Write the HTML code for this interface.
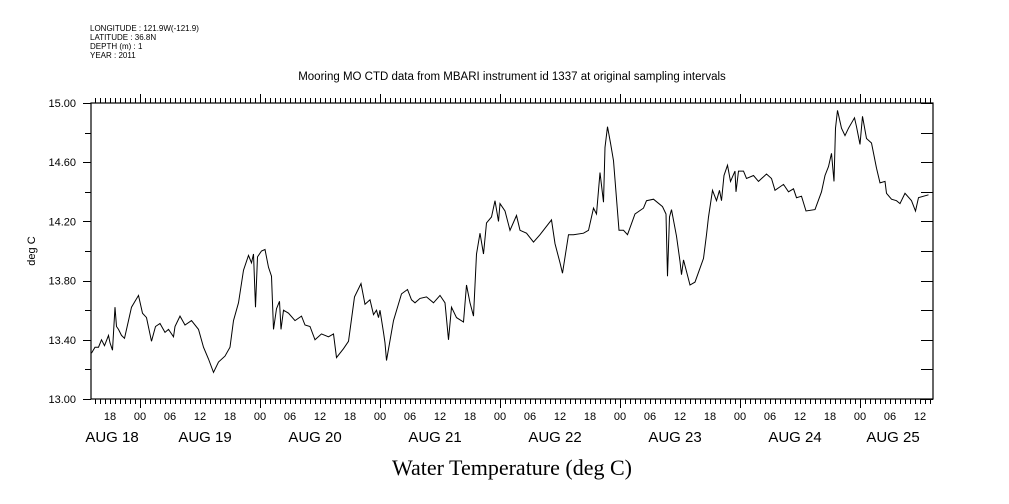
<!DOCTYPE html>
<html><head><meta charset="utf-8"><style>
html,body{margin:0;padding:0;background:#fff;}
svg{display:block;}
text{font-family:"Liberation Sans",sans-serif;fill:#000;}
</style></head><body>
<svg id="chart" width="1009" height="504" viewBox="0 0 1009 504">
<g font-size="8">
<text x="90" y="31">LONGITUDE : 121.9W(-121.9)</text>
<text x="90" y="40">LATITUDE : 36.8N</text>
<text x="90" y="49">DEPTH (m) : 1</text>
<text x="90" y="58">YEAR : 2011</text>
</g>
<text x="512" y="80" font-size="11.5" text-anchor="middle">Mooring MO CTD data from MBARI instrument id 1337 at original sampling intervals</text>
<text x="35" y="251" font-size="11" text-anchor="middle" transform="rotate(-90 35 251)">deg C</text>
<text x="512" y="475" font-size="22" text-anchor="middle" style="font-family:'Liberation Serif',serif">Water Temperature (deg C)</text>
<g id="axes"></g>
<path id="line" fill="none" stroke="#000" stroke-width="1"></path>
</svg>
<script>
const hours=[14.3,15.0,15.7,16.3,16.9,17.7,18.0,18.5,19.0,19.3,19.7,20.3,20.9,21.7,22.3,23.7,24.5,25.3,26.3,27.1,28.0,29.0,29.7,30.7,31.0,32.0,33.0,34.3,35.7,36.7,37.7,38.7,39.7,41.0,42.0,42.7,43.7,44.7,45.7,46.3,46.7,47.1,47.5,48.3,49.0,49.7,50.3,50.7,51.3,51.9,52.2,52.7,53.7,55.0,56.3,57.0,58.0,59.0,60.3,61.7,62.7,63.3,64.7,65.7,66.9,68.2,69.0,70.0,70.7,71.3,71.7,72.0,72.7,73.0,73.3,74.7,76.3,77.5,78.3,79.0,80.0,81.3,82.7,84.0,85.0,85.7,86.3,87.3,88.7,89.3,90.0,90.7,91.3,92.0,92.7,93.3,94.3,95.0,95.7,96.0,97.0,98.0,99.3,100.0,101.3,102.7,104.0,106.3,107.0,108.0,108.5,109.7,110.7,112.7,113.7,114.7,115.3,116.0,116.7,117.0,117.5,118.1,118.7,119.8,120.7,121.5,123.0,124.7,125.3,126.7,128.5,129.2,129.5,129.9,130.3,131.3,132.0,132.3,132.7,134.0,135.0,136.7,137.3,137.7,138.5,139.3,139.9,140.3,140.8,141.5,142.1,143.0,143.2,143.7,144.7,145.3,146.7,147.7,149.3,150.3,151.0,152.7,153.7,154.7,155.3,156.3,157.2,159.0,160.3,161.0,161.7,162.3,162.8,163.1,163.5,164.3,165.0,165.7,166.9,167.3,168.0,168.5,169.3,170.3,171.3,172.0,173.0,173.3,174.3,175.3,176.0,177.0,178.3,179.1,179.7,181.7];
const temps=[13.31,13.35,13.35,13.40,13.36,13.43,13.38,13.33,13.62,13.49,13.47,13.43,13.41,13.53,13.62,13.70,13.58,13.55,13.39,13.49,13.51,13.45,13.47,13.42,13.49,13.56,13.50,13.53,13.47,13.35,13.27,13.18,13.25,13.29,13.35,13.53,13.65,13.87,13.97,13.92,13.98,13.62,13.96,14.00,14.01,13.89,13.83,13.47,13.61,13.66,13.47,13.60,13.58,13.53,13.56,13.50,13.49,13.40,13.44,13.42,13.44,13.28,13.34,13.39,13.69,13.78,13.64,13.67,13.57,13.60,13.55,13.60,13.45,13.38,13.26,13.53,13.71,13.74,13.67,13.65,13.68,13.69,13.65,13.70,13.65,13.40,13.62,13.55,13.52,13.77,13.65,13.56,13.98,14.12,13.98,14.19,14.23,14.34,14.20,14.32,14.27,14.14,14.24,14.14,14.12,14.06,14.11,14.21,14.05,13.92,13.85,14.11,14.11,14.12,14.14,14.29,14.25,14.53,14.33,14.70,14.84,14.73,14.61,14.14,14.14,14.11,14.25,14.29,14.34,14.35,14.30,14.25,13.83,14.23,14.28,14.10,13.93,13.84,13.94,13.77,13.79,13.95,14.11,14.23,14.41,14.34,14.41,14.34,14.51,14.58,14.47,14.54,14.40,14.54,14.54,14.49,14.51,14.47,14.52,14.49,14.41,14.45,14.40,14.42,14.36,14.37,14.27,14.28,14.40,14.51,14.57,14.66,14.47,14.83,14.95,14.83,14.78,14.83,14.90,14.84,14.72,14.91,14.76,14.73,14.56,14.46,14.47,14.39,14.35,14.34,14.32,14.39,14.34,14.27,14.36,14.38];
const yTickLabels=["13.00","13.40","13.80","14.20","14.60","15.00"];
const hourLabels=["18","00","06","12"];
const dayLabels=["AUG 18","AUG 19","AUG 20","AUG 21","AUG 22","AUG 23","AUG 24","AUG 25"];
const dayLabelHours=[18.4,37,59,83,107,131,155,174.6];

const L=91,R=933,T=103,B=399;
const H0=14.2,H1=182.6,Y0=13,Y1=15;
const sx=h=>L+(h-H0)*(R-L)/(H1-H0);
const sy=v=>B-(v-Y0)*(B-T)/(Y1-Y0);
const NS="http://www.w3.org/2000/svg";
const ax=document.getElementById('axes');
function mk(tag,attrs){const e=document.createElementNS(NS,tag);for(const k in attrs)e.setAttribute(k,attrs[k]);ax.appendChild(e);return e;}
let frame=mk('rect',{x:L,y:T,width:R-L,height:B-T,fill:'none',stroke:'#000','stroke-width':1.2});


let d='';
for(let h=Math.ceil(H0);h<=H1;h++){const x=Math.round(sx(h))+0.5;const maj=h%24===0;const len=maj?9:5;
 d+=`M${x},${B}V${B+len}M${x},${T}V${T-len}`;}
for(let i=0;i<=10;i++){const v=Y0+i*0.2;const y=Math.round(sy(v))+0.5;const maj=i%2===0;
 d+=`M${L},${y}H${L-(maj?8:6)}M${R},${y}H${R-12}`;}
let tk=mk('path',{d:d,stroke:'#000','stroke-width':1,fill:'none'});


yTickLabels.forEach((s,i)=>{const t=mk('text',{x:76,y:sy(parseFloat(s))+4,'font-size':11,'text-anchor':'end'});t.textContent=s;
 
 });
for(let h=18,i=0;h<=H1;h+=6,i++){const t=mk('text',{x:sx(h),y:420,'font-size':11,'text-anchor':'middle'});t.textContent=hourLabels[i%4];
 
 }
dayLabels.forEach((s,i)=>{const t=mk('text',{x:sx(dayLabelHours[i]),y:442,'font-size':15,'text-anchor':'middle'});t.textContent=s;
 
 });
document.getElementById('line').setAttribute('d',hours.map((h,i)=>(i?'L':'M')+sx(h).toFixed(1)+','+sy(temps[i]).toFixed(1)).join(''));
</script>
</body></html>
